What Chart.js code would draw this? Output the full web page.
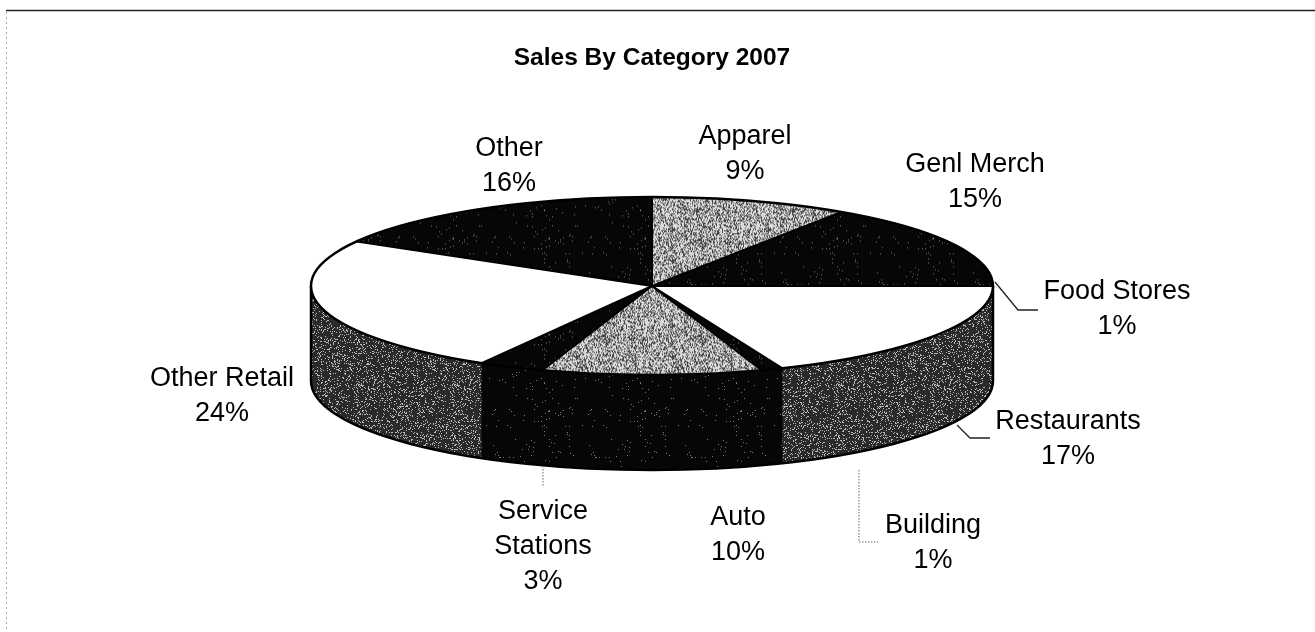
<!DOCTYPE html>
<html>
<head>
<meta charset="utf-8">
<title>Sales By Category 2007</title>
<script src="https://cdn.jsdelivr.net/npm/chart.js@4.4.1/dist/chart.umd.min.js"></script>
<style>
    html, body { margin: 0; padding: 0; background: #fff; }
    #wrap { width: 1315px; height: 632px; }
</style>
</head>
<body>
<div id="wrap"><canvas id="SalesPie" width="1315" height="632"></canvas></div>
<script>
// slices, clockwise from 12 o'clock
var categories = ['Apparel', 'Genl Merch', 'Food Stores', 'Restaurants', 'Building', 'Auto', 'Service Stations', 'Other Retail', 'Other'];
var salesPct = [9, 15, 1, 17, 1, 10, 3, 24, 16];

// shading of each slice: top face and outer wall
var topShade  = ['light', 'black', 'white', 'white', 'black', 'light', 'black', 'white', 'black'];
var wallShade = ['black', 'black', 'dark',  'dark',  'black', 'black', 'black', 'dark',  'black'];

// label anchors (centre x, first baseline) and leader lines
var labelSpots = [
    { x: 745, y: 144 },
    { x: 975, y: 172 },
    { x: 1117, y: 299, leader: [[995, 282], [1018, 310], [1038, 310]] },
    { x: 1068, y: 429, leader: [[957, 425], [970, 438], [990, 438]] },
    { x: 933, y: 533, leader: [[859, 470], [859, 542], [878, 542]], dotted: true },
    { x: 738, y: 525 },
    { x: 543, y: 519, wrap: true, leader: [[543, 466], [543, 487]], dotted: true },
    { x: 222, y: 386 },
    { x: 509, y: 156 }
];

var tilt = 0.261;      // ellipse height / width
var depth = 95;        // wall height in px
var lineGap = 35;
var labelFont = '27px "Liberation Sans", Arial, sans-serif';

// grainy fill tiles
function noiseTile(base, speck, density, seed) {
    var size = 96;
    var c = document.createElement('canvas');
    c.width = c.height = size;
    var g = c.getContext('2d');
    var img = g.createImageData(size, size);
    for (var p = 0; p < size * size; p++) {
        var h = (p * 2654435761 + seed * 40503) >>> 0;
        h ^= h >>> 15; h = Math.imul(h, 2246822519) >>> 0;
        h ^= h >>> 13; h = Math.imul(h, 3266489917) >>> 0;
        h ^= h >>> 16;
        var v = (h >>> 0) / 4294967296 < density ? speck : base;
        img.data[p * 4] = img.data[p * 4 + 1] = img.data[p * 4 + 2] = v;
        img.data[p * 4 + 3] = 255;
    }
    g.putImageData(img, 0, 0);
    return c;
}

var ctx0 = document.getElementById('SalesPie').getContext('2d');
var tiles = {
    light: noiseTile(218, 70, 0.40, 3),
    dark: noiseTile(42, 185, 0.16, 7),
    black: noiseTile(6, 120, 0.012, 11)
};

function fillFor(kind, squashed) {
    if (kind === 'white') return '#ffffff';
    var pat = ctx0.createPattern(tiles[kind], 'repeat');
    if (squashed) pat.setTransform(new DOMMatrix().scale(1, 1 / tilt));
    return pat;
}

var topFills = topShade.map(function (k) { return fillFor(k, true); });
var wallFills = wallShade.map(function (k) { return fillFor(k, false); });

var pie3d = {
    id: 'pie3d',
    beforeDraw: function (chart) {
        var ctx = chart.ctx;
        ctx.save();
        ctx.strokeStyle = '#222';
        ctx.lineWidth = 1.5;
        ctx.beginPath();
        ctx.moveTo(6, 10.5);
        ctx.lineTo(chart.width, 10.5);
        ctx.stroke();
        ctx.strokeStyle = '#aaa';
        ctx.lineWidth = 1;
        ctx.setLineDash([2, 3]);
        ctx.beginPath();
        ctx.moveTo(6.5, 12);
        ctx.lineTo(6.5, chart.height);
        ctx.stroke();
        ctx.restore();
    },
    beforeDatasetsDraw: function (chart) {
        var ctx = chart.ctx;
        var arcs = chart.getDatasetMeta(0).data;
        var cx = arcs[0].x, cy = arcs[0].y, R = arcs[0].outerRadius, r = R * tilt;

        // front walls (each one a hair wider so neighbours leave no seam)
        arcs.forEach(function (arc, i) {
            var a0 = Math.max(arc.startAngle, 0), a1 = Math.min(arc.endAngle + 0.006, Math.PI);
            if (a1 <= a0) return;
            ctx.beginPath();
            ctx.ellipse(cx, cy, R, r, 0, a0, a1, false);
            ctx.ellipse(cx, cy + depth, R, r, 0, a1, a0, true);
            ctx.closePath();
            ctx.fillStyle = wallFills[i];
            ctx.fill();
        });
        ctx.save();
        ctx.strokeStyle = '#000';
        ctx.lineWidth = 2.5;
        ctx.beginPath();
        ctx.moveTo(cx + R, cy);
        ctx.lineTo(cx + R, cy + depth);
        ctx.ellipse(cx, cy + depth, R, r, 0, 0, Math.PI, false);
        ctx.lineTo(cx - R, cy);
        ctx.stroke();
        ctx.restore();

        // squash the library's pie into the top face
        ctx.save();
        ctx.translate(cx, cy);
        ctx.scale(1, tilt);
        ctx.translate(-cx, -cy);
    },
    afterDatasetsDraw: function (chart) {
        var ctx = chart.ctx;
        ctx.restore();
        var arcs = chart.getDatasetMeta(0).data;
        var cx = arcs[0].x, cy = arcs[0].y, R = arcs[0].outerRadius, r = R * tilt;
        var n = arcs.length;

        ctx.save();
        ctx.strokeStyle = '#000';
        ctx.lineCap = 'round';
        ctx.lineWidth = 2;
        arcs.forEach(function (arc, i) {
            var prev = (i + n - 1) % n;
            if (topShade[i] === 'white' && topShade[prev] === 'white') return;
            ctx.beginPath();
            ctx.moveTo(cx, cy);
            ctx.lineTo(cx + R * Math.cos(arc.startAngle), cy + r * Math.sin(arc.startAngle));
            ctx.stroke();
        });
        ctx.lineWidth = 2.5;
        ctx.beginPath();
        ctx.ellipse(cx, cy, R, r, 0, 0, Math.PI * 2);
        ctx.stroke();
        ctx.restore();

        // category labels
        ctx.save();
        ctx.font = labelFont;
        ctx.fillStyle = '#000';
        ctx.textAlign = 'center';
        ctx.textBaseline = 'alphabetic';
        labelSpots.forEach(function (spot, i) {
            var lines = spot.wrap ? categories[i].split(' ') : [categories[i]];
            lines.push(salesPct[i] + '%');
            lines.forEach(function (t, j) { ctx.fillText(t, spot.x, spot.y + j * lineGap); });
            if (spot.leader) {
                ctx.beginPath();
                ctx.strokeStyle = spot.dotted ? '#666' : '#222';
                ctx.lineWidth = spot.dotted ? 1 : 1.3;
                ctx.setLineDash(spot.dotted ? [1.5, 1.5] : []);
                spot.leader.forEach(function (pt, k) {
                    if (k === 0) ctx.moveTo(pt[0], pt[1]); else ctx.lineTo(pt[0], pt[1]);
                });
                ctx.stroke();
            }
        });
        ctx.restore();
    }
};

new Chart(document.getElementById('SalesPie'), {
    type: 'pie',
    data: {
        labels: categories,
        datasets: [{
            data: salesPct,
            backgroundColor: topFills,
            borderWidth: 0,
            radius: 341
        }]
    },
    options: {
        responsive: false,
        animation: false,
        events: [],
        layout: { padding: { left: 0, right: 11, top: 0, bottom: 143.4 } },
        plugins: {
            legend: { display: false },
            tooltip: { enabled: false },
            title: {
                display: true,
                text: 'Sales By Category 2007',
                color: '#000',
                font: { family: '"Liberation Sans", Arial, sans-serif', size: 24.5, weight: 'bold', lineHeight: 1.2 },
                padding: { top: 44, bottom: 10 }
            }
        }
    },
    plugins: [pie3d]
});
</script>
</body>
</html>
